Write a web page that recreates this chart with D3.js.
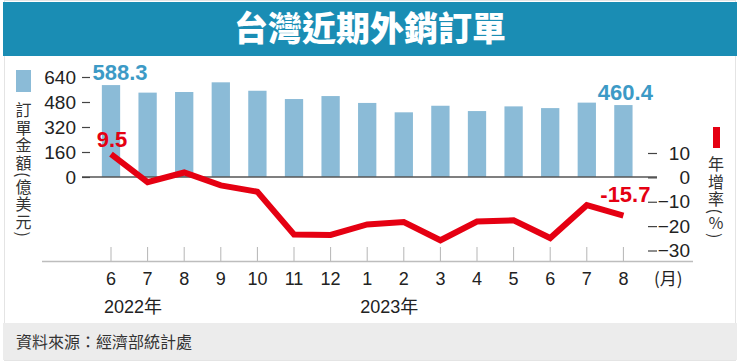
<!DOCTYPE html>
<html>
<head>
<meta charset="utf-8">
<script src="https://cdn.jsdelivr.net/npm/d3@7"></script>
<style>
  html, body { margin: 0; padding: 0; background: #fff; }
  svg { display: block; }
  text { font-family: "Liberation Sans", Arial, "Noto Sans CJK TC", sans-serif; }
  .cjk { font-family: "Noto Sans CJK TC", sans-serif; }
</style>
</head>
<body>
<svg id="chart" width="740" height="362"></svg>
<script>
// data
const monthKeys = ["2022-06", "2022-07", "2022-08", "2022-09", "2022-10", "2022-11", "2022-12",
                   "2023-01", "2023-02", "2023-03", "2023-04", "2023-05", "2023-06", "2023-07", "2023-08"];
const monthLabels = ["6", "7", "8", "9", "10", "11", "12", "1", "2", "3", "4", "5", "6", "7", "8"];
const orders = [588.3, 540, 544, 606, 552, 499, 518, 474, 414, 456, 422, 452, 441, 476, 460.4];   // 億美元
const yoy = [9.5, -2.0, 2.0, -3.3, -5.9, -23.4, -23.6, -19.3, -18.3, -25.8, -18.1, -17.6, -24.9, -11.4, -15.7]; // %
const leftTicks = [0, 160, 320, 480, 640];
const rightTicks = [-30, -20, -10, 0, 10];
const yearLabels = [{ key: "2022-06", text: "2022年" }, { key: "2023-01", text: "2023年" }];

const BLUE_BAR = "#8bbbd7";
const BLUE_TXT = "#3c9ac6";
const RED = "#e50012";

const svg = d3.select("#chart");

// frame, title band, footer band
svg.append("rect").attr("x", 4.5).attr("y", 0.5).attr("width", 731).attr("height", 360)
    .attr("fill", "#fff").attr("stroke", "#e4e4e4");
svg.append("rect").attr("x", 3).attr("y", 2).attr("width", 734).attr("height", 54).attr("fill", "#1a8db4");
svg.append("text").attr("class", "cjk")
    .attr("x", 370).attr("y", 29).attr("dy", "0.36em")
    .attr("text-anchor", "middle").attr("fill", "#fff")
    .style("font-size", "34px").style("font-weight", 900)
    .text("台灣近期外銷訂單");
svg.append("rect").attr("x", 3).attr("y", 323).attr("width", 734).attr("height", 37).attr("fill", "#ececec");
svg.append("text").attr("class", "cjk")
    .attr("x", 16).attr("y", 342).attr("dy", "0.36em")
    .attr("fill", "#333").style("font-size", "16px")
    .text("資料來源：經濟部統計處");

// scales
const x = d3.scaleBand().domain(monthKeys).range([92.7, 641.7]).paddingInner(0.5).paddingOuter(0.25);
const yL = d3.scaleLinear().domain([0, 640]).range([177, 77]);
const yR = d3.scaleLinear().domain([-30, 10]).range([250.5, 153]);
const cx = k => x(k) + x.bandwidth() / 2;

// bottom axis (month ticks point up)
const xAxis = svg.append("g").attr("transform", "translate(0,261)")
    .call(d3.axisBottom(x).tickSizeInner(-14).tickSizeOuter(0).tickPadding(11)
        .tickFormat((d, i) => monthLabels[i]));
xAxis.select(".domain").remove();
xAxis.selectAll(".tick line").attr("stroke", "#b5b5b5");
xAxis.selectAll(".tick text").attr("fill", "#222").style("font-size", "18px")
    .style("font-family", "'Liberation Sans', Arial, sans-serif");
svg.append("line").attr("x1", 42).attr("x2", 693).attr("y1", 261.5).attr("y2", 261.5)
    .attr("stroke", "#bdbdbd").attr("stroke-width", 1.5);
svg.append("text").attr("class", "cjk").attr("x", 654).attr("y", 279).attr("dy", "0.36em")
    .attr("fill", "#222").style("font-size", "17px").text("(月)");
svg.selectAll(".year-label").data(yearLabels).join("text")
    .attr("class", "year-label")
    .attr("x", d => cx(d.key) - 7).attr("y", 307).attr("dy", "0.36em")
    .attr("fill", "#222").style("font-size", "18px")
    .text(d => d.text);

// bars
svg.append("g").selectAll("rect").data(orders).join("rect")
    .attr("x", (d, i) => x(monthKeys[i]))
    .attr("width", x.bandwidth())
    .attr("y", d => yL(d))
    .attr("height", d => yL(0) - yL(d))
    .attr("fill", BLUE_BAR);

// zero line
svg.append("line").attr("x1", 82).attr("x2", 657).attr("y1", yL(0)).attr("y2", yL(0))
    .attr("stroke", "#555").attr("stroke-width", 1.5);

// left axis
const leftAxis = svg.append("g").attr("transform", "translate(90,0)")
    .call(d3.axisLeft(yL).tickValues(leftTicks).tickSize(8).tickPadding(6));
leftAxis.select(".domain").remove();
leftAxis.selectAll(".tick line").attr("stroke", "#444").attr("stroke-width", 1.2);
leftAxis.selectAll(".tick text").attr("fill", "#222").style("font-size", "19px");

// right axis
const rightAxis = svg.append("g").attr("transform", "translate(648,0)")
    .call(d3.axisRight(yR).tickValues(rightTicks).tickSize(9).tickPadding(6));
rightAxis.select(".domain").remove();
rightAxis.selectAll(".tick line").attr("stroke", "#444").attr("stroke-width", 1.2);
rightAxis.selectAll(".tick text").attr("fill", "#222").style("font-size", "19px")
    .attr("text-anchor", "end").attr("x", 42);

// yoy line
const line = d3.line().x((d, i) => cx(monthKeys[i])).y(d => yR(d));
svg.append("path").datum(yoy).attr("d", line)
    .attr("fill", "none").attr("stroke", RED).attr("stroke-width", 6)
    .attr("stroke-linejoin", "miter");

// value labels
const last = monthKeys.length - 1;
[[0, orders[0]], [last, orders[last]]].forEach(([i, v]) => {
    svg.append("text").attr("x", cx(monthKeys[i]) + (i === 0 ? 9 : 2)).attr("y", yL(v) - 5)
        .attr("text-anchor", "middle").attr("fill", BLUE_TXT)
        .style("font-size", "22px").style("font-weight", "bold")
        .text(v.toFixed(1));
});
[[0, yoy[0], -7], [last, yoy[last], -14]].forEach(([i, v, off]) => {
    svg.append("text").attr("x", cx(monthKeys[i]) + (i === 0 ? 1 : 2)).attr("y", yR(v) + off)
        .attr("text-anchor", "middle").attr("fill", RED)
        .style("font-size", "22px").style("font-weight", "bold")
        .text(v.toFixed(1));
});

// legends with vertical titles
svg.append("rect").attr("x", 16).attr("y", 70).attr("width", 15).attr("height", 22).attr("fill", BLUE_BAR);
svg.append("text").attr("class", "cjk")
    .attr("x", 23.5).attr("y", 102)
    .style("writing-mode", "vertical-rl").style("font-size", "16px").style("letter-spacing", "1.5px")
    .attr("fill", "#333")
    .text("訂單金額(億美元)");
svg.append("rect").attr("x", 713).attr("y", 127).attr("width", 7).attr("height", 21).attr("fill", RED);
svg.append("text").attr("class", "cjk")
    .attr("x", 716).attr("y", 156)
    .style("writing-mode", "vertical-rl").style("font-size", "16px").style("letter-spacing", "1.5px")
    .attr("fill", "#333")
    .text("年增率(％)");
</script>
</body>
</html>
